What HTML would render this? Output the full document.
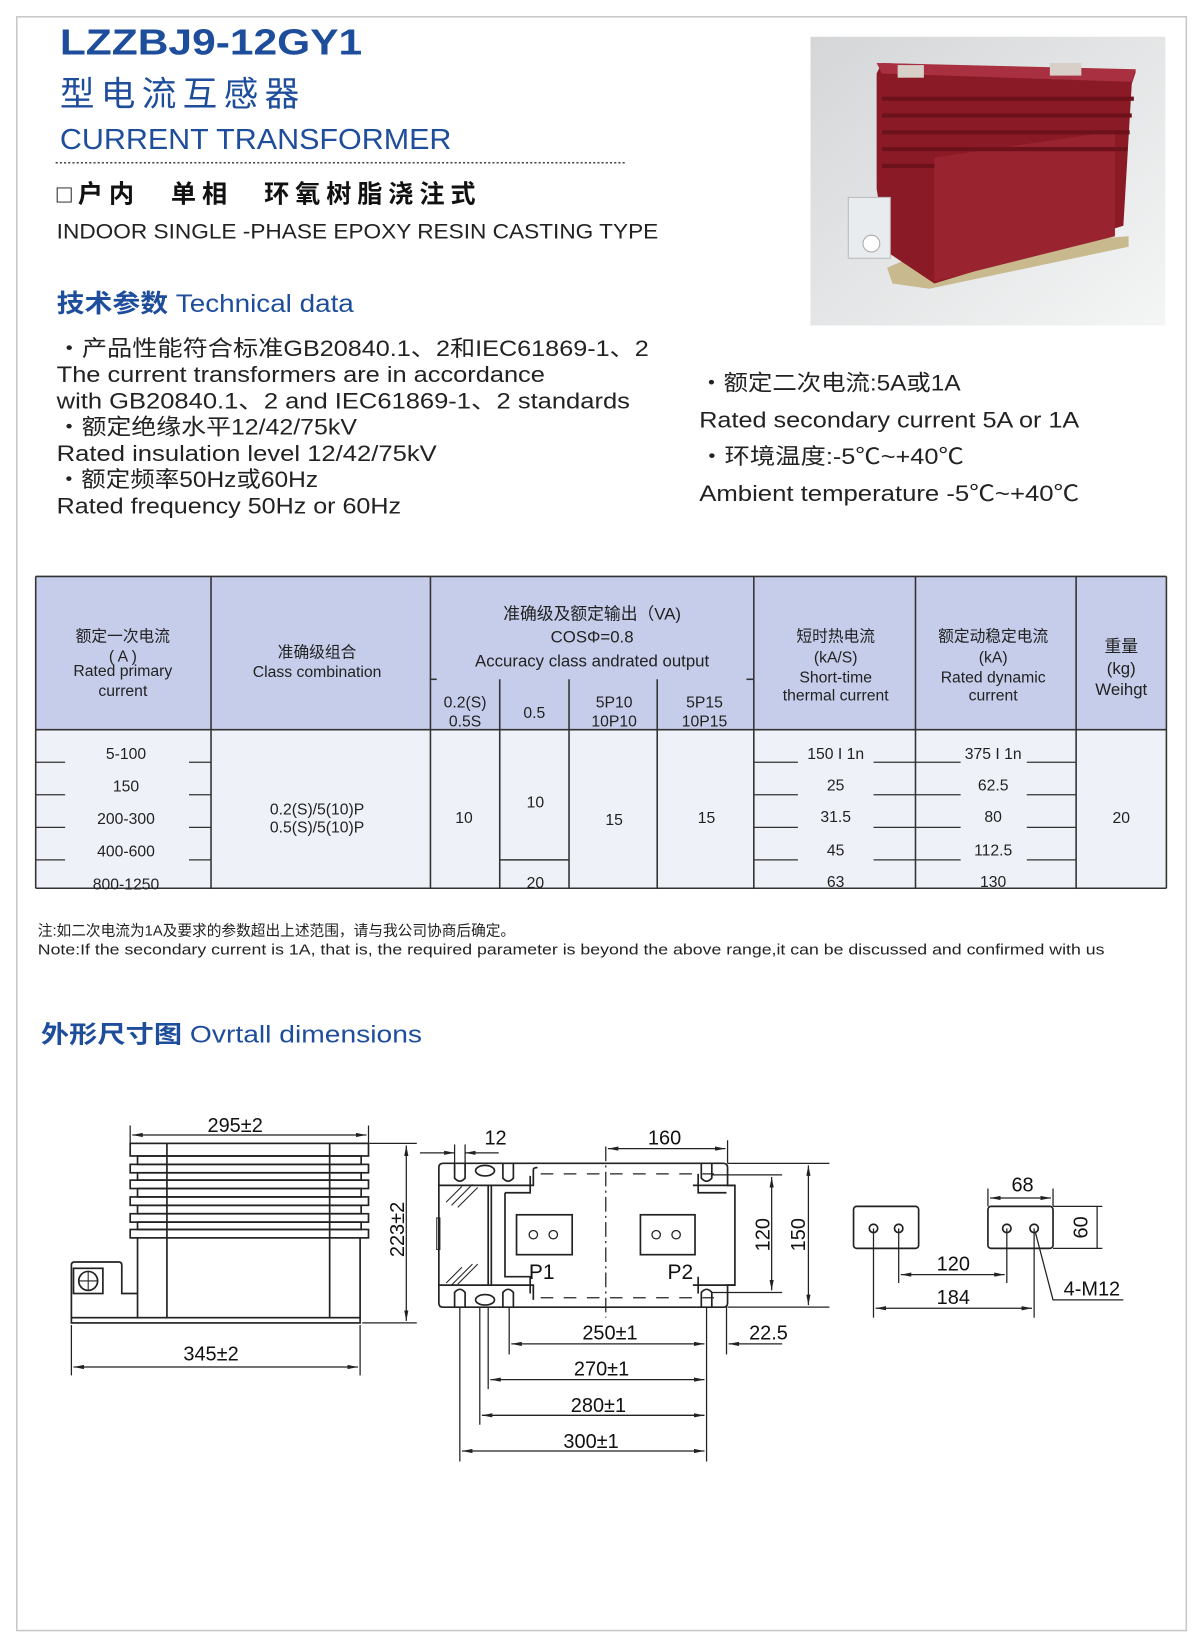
<!DOCTYPE html>
<html><head><meta charset="utf-8"><style>
html,body{margin:0;padding:0;background:#fff;}
svg{display:block;}
text{font-family:"Liberation Sans","Noto Sans CJK SC",sans-serif;}
</style></head><body>
<svg width="1200" height="1640" viewBox="0 0 1143 1562" preserveAspectRatio="none" xmlns="http://www.w3.org/2000/svg">
<defs>
<linearGradient id="bg" x1="0" y1="0" x2="1" y2="1"><stop offset="0" stop-color="#d4d6d8"/><stop offset="1" stop-color="#f4f5f5"/></linearGradient>
<marker id="ar" viewBox="0 0 10 4" refX="10" refY="2" markerWidth="10" markerHeight="4" orient="auto-start-reverse" markerUnits="userSpaceOnUse"><path d="M0,0 L10,2 L0,4 z" fill="#222"/></marker>
</defs>
<rect x="16" y="16" width="1114" height="1537" fill="none" stroke="#c8c8c8" stroke-width="1.5"/>

<!-- header -->
<text x="57" y="52" font-size="34" font-weight="bold" fill="#1e4d9c" textLength="288" lengthAdjust="spacingAndGlyphs">LZZBJ9-12GY1</text>
<text x="57" y="101" font-size="33" fill="#1e4d9c" textLength="228">型电流互感器</text>
<text x="57" y="142" font-size="27" fill="#1e4d9c" textLength="373" lengthAdjust="spacingAndGlyphs">CURRENT  TRANSFORMER</text>
<line x1="53" y1="155" x2="595" y2="155" stroke="#444" stroke-width="1.5" stroke-dasharray="2,2"/>
<text x="54" y="193" font-size="24" font-weight="bold" fill="#111" textLength="399">□户内　单相　环氧树脂浇注式</text>
<text x="54" y="227" font-size="20" fill="#222" textLength="573" lengthAdjust="spacingAndGlyphs">INDOOR SINGLE -PHASE EPOXY RESIN CASTING TYPE</text>
<text x="54" y="297" font-size="24" fill="#1e4d9c" textLength="283" lengthAdjust="spacingAndGlyphs"><tspan font-weight="bold">技术参数</tspan> Technical data</text>

<g font-size="21" fill="#222">
<text x="54" y="339" textLength="564" lengthAdjust="spacingAndGlyphs">・产品性能符合标准GB20840.1、2和IEC61869-1、2</text>
<text x="54" y="364" textLength="465" lengthAdjust="spacingAndGlyphs">The current transformers are in accordance</text>
<text x="54" y="389" textLength="546" lengthAdjust="spacingAndGlyphs">with GB20840.1、2 and IEC61869-1、2 standards</text>
<text x="54" y="414" textLength="286" lengthAdjust="spacingAndGlyphs">・额定绝缘水平12/42/75kV</text>
<text x="54" y="439" textLength="362" lengthAdjust="spacingAndGlyphs">Rated insulation level 12/42/75kV</text>
<text x="54" y="464" textLength="249" lengthAdjust="spacingAndGlyphs">・额定频率50Hz或60Hz</text>
<text x="54" y="489" textLength="328" lengthAdjust="spacingAndGlyphs">Rated frequency 50Hz or 60Hz</text>
<text x="666" y="372" textLength="249" lengthAdjust="spacingAndGlyphs">・额定二次电流:5A或1A</text>
<text x="666" y="407" textLength="362" lengthAdjust="spacingAndGlyphs">Rated secondary current 5A or 1A</text>
<text x="666" y="442" textLength="252" lengthAdjust="spacingAndGlyphs">・环境温度:-5℃~+40℃</text>
<text x="666" y="477" textLength="362" lengthAdjust="spacingAndGlyphs">Ambient temperature -5℃~+40℃</text>
</g>

<!-- photo -->
<rect x="772" y="35" width="338" height="275" fill="url(#bg)"/>
<polygon points="845,255 880,240 1075,225 1075,235 885,275 850,270" fill="#c9b98f"/>
<polygon points="835,70 840,60 1082,68 1078,80 1070,215 890,270 845,240 835,180" fill="#8a1b26"/>
<polygon points="890,150 1062,125 1062,225 890,268" fill="#9a2330"/>
<g fill="#6d121b">
<rect x="840" y="92" width="240" height="4"/><rect x="840" y="108" width="238" height="4"/>
<rect x="840" y="124" width="236" height="4"/><rect x="840" y="140" width="234" height="4"/>
<rect x="840" y="156" width="50" height="4"/>
</g>
<polygon points="835,60 1082,66 1078,78 840,70" fill="#a83040"/>
<rect x="855" y="62" width="25" height="12" fill="#d8d0c8"/>
<rect x="1000" y="60" width="30" height="12" fill="#d8d0c8"/>
<rect x="808" y="188" width="40" height="58" fill="#e8ecee" stroke="#bbb"/>
<circle cx="830" cy="232" r="8" fill="#fff" stroke="#aaa"/>

<!-- table -->
<rect x="34" y="549" width="1077" height="146" fill="#c6cdea"/>
<rect x="34" y="695" width="1077" height="151" fill="#eef1f8"/>
<g stroke="#333" stroke-width="1.5" fill="none">
<line x1="34" y1="549" x2="1111" y2="549"/>
<line x1="34" y1="695" x2="1111" y2="695"/>
<line x1="34" y1="846" x2="1111" y2="846"/>
<line x1="34" y1="549" x2="34" y2="846"/>
<line x1="201" y1="549" x2="201" y2="846"/>
<line x1="410" y1="549" x2="410" y2="846"/>
<line x1="718" y1="549" x2="718" y2="846"/>
<line x1="872" y1="549" x2="872" y2="846"/>
<line x1="1025" y1="549" x2="1025" y2="846"/>
<line x1="1111" y1="549" x2="1111" y2="846"/>
<line x1="476" y1="647" x2="476" y2="846"/>
<line x1="542" y1="647" x2="542" y2="846"/>
<line x1="626" y1="647" x2="626" y2="846"/>
<line x1="410" y1="647" x2="416" y2="647"/><line x1="711" y1="647" x2="718" y2="647"/>
<line x1="476" y1="819" x2="542" y2="819"/>
</g>
<g stroke="#333" stroke-width="1.2">
<line x1="34" y1="726" x2="62" y2="726"/><line x1="180" y1="726" x2="201" y2="726"/>
<line x1="34" y1="757" x2="62" y2="757"/><line x1="180" y1="757" x2="201" y2="757"/>
<line x1="34" y1="788" x2="62" y2="788"/><line x1="180" y1="788" x2="201" y2="788"/>
<line x1="34" y1="819" x2="62" y2="819"/><line x1="180" y1="819" x2="201" y2="819"/>
<line x1="718" y1="726" x2="760" y2="726"/><line x1="832" y1="726" x2="872" y2="726"/>
<line x1="718" y1="757" x2="760" y2="757"/><line x1="832" y1="757" x2="872" y2="757"/>
<line x1="718" y1="788" x2="760" y2="788"/><line x1="832" y1="788" x2="872" y2="788"/>
<line x1="718" y1="819" x2="760" y2="819"/><line x1="832" y1="819" x2="872" y2="819"/>
<line x1="872" y1="726" x2="915" y2="726"/><line x1="978" y1="726" x2="1025" y2="726"/>
<line x1="872" y1="757" x2="915" y2="757"/><line x1="978" y1="757" x2="1025" y2="757"/>
<line x1="872" y1="788" x2="915" y2="788"/><line x1="978" y1="788" x2="1025" y2="788"/>
<line x1="872" y1="819" x2="915" y2="819"/><line x1="978" y1="819" x2="1025" y2="819"/>
</g>
<g font-size="15" fill="#222" text-anchor="middle">
<text x="117" y="611">额定一次电流</text><text x="117" y="630">( A )</text>
<text x="117" y="644">Rated primary</text><text x="117" y="663">current</text>
<text x="302" y="626">准确级组合</text><text x="302" y="645">Class combination</text>
<text x="564" y="590" font-size="16">准确级及额定输出（VA)</text>
<text x="564" y="612" font-size="16">COSΦ=0.8</text>
<text x="564" y="635" font-size="16">Accuracy class andrated output</text>
<text x="443" y="674">0.2(S)</text><text x="443" y="692">0.5S</text>
<text x="509" y="684">0.5</text>
<text x="585" y="674">5P10</text><text x="585" y="692">10P10</text>
<text x="671" y="674">5P15</text><text x="671" y="692">10P15</text>
<text x="796" y="611">短时热电流</text><text x="796" y="631">(kA/S)</text>
<text x="796" y="650">Short-time</text><text x="796" y="667">thermal current</text>
<text x="946" y="611">额定动稳定电流</text><text x="946" y="631">(kA)</text>
<text x="946" y="650">Rated dynamic</text><text x="946" y="667">current</text>
<text x="1068" y="621" font-size="16">重量</text><text x="1068" y="642" font-size="16">(kg)</text><text x="1068" y="662" font-size="16">Weihgt</text>
<text x="120" y="723">5-100</text><text x="120" y="754">150</text><text x="120" y="785">200-300</text>
<text x="120" y="816">400-600</text><text x="120" y="847">800-1250</text>
<text x="302" y="776">0.2(S)/5(10)P</text><text x="302" y="793">0.5(S)/5(10)P</text>
<text x="442" y="784">10</text><text x="510" y="769">10</text><text x="510" y="846">20</text>
<text x="585" y="786">15</text><text x="673" y="784">15</text>
<text x="796" y="723">150 I 1n</text><text x="796" y="753">25</text><text x="796" y="783">31.5</text>
<text x="796" y="815">45</text><text x="796" y="845">63</text>
<text x="946" y="723">375 I 1n</text><text x="946" y="753">62.5</text><text x="946" y="783">80</text>
<text x="946" y="815">112.5</text><text x="946" y="845">130</text>
<text x="1068" y="784">20</text>
</g>
<text x="36" y="891" font-size="14" fill="#222">注:如二次电流为1A及要求的参数超出上述范围，请与我公司协商后确定。</text>
<text x="36" y="909" font-size="14" fill="#222" textLength="1016" lengthAdjust="spacingAndGlyphs">Note:If the secondary current is 1A, that is, the required parameter is beyond the above range,it can be discussed and confirmed with us</text>

<text x="39" y="993" font-size="23" fill="#1e4d9c" textLength="363" lengthAdjust="spacingAndGlyphs"><tspan font-weight="bold">外形尺寸图</tspan> Ovrtall dimensions</text>

<!-- drawings -->
<g stroke="#222" stroke-width="1.6" fill="none">
<rect x="124" y="1089" width="227" height="12"/>
<rect x="131" y="1101" width="213" height="8"/>
<rect x="124" y="1109" width="227" height="8"/>
<rect x="131" y="1117" width="213" height="7"/>
<rect x="124" y="1124" width="227" height="8"/>
<rect x="131" y="1132" width="213" height="8"/>
<rect x="124" y="1140" width="227" height="8"/>
<rect x="131" y="1148" width="213" height="8"/>
<rect x="124" y="1156" width="227" height="8"/>
<rect x="131" y="1164" width="213" height="7"/>
<rect x="124" y="1171" width="227" height="8"/>
<line x1="159" y1="1089" x2="159" y2="1255"/><line x1="314" y1="1089" x2="314" y2="1255"/>
<line x1="131" y1="1179" x2="131" y2="1255"/><line x1="343" y1="1179" x2="343" y2="1255"/>
<rect x="68" y="1255" width="275" height="5"/>
<path d="M68,1232 V1205 Q68,1202 71,1202 H113 Q116,1202 116,1205 V1232 H131 M68,1232 V1255"/>
<rect x="70" y="1208" width="28" height="24"/>
<circle cx="84" cy="1220" r="9"/><line x1="75" y1="1220" x2="93" y2="1220" stroke-width="1"/><line x1="84" y1="1211" x2="84" y2="1229" stroke-width="1"/>
</g>
<g stroke="#222" stroke-width="1.2" fill="none">
<line x1="124" y1="1072" x2="124" y2="1089"/><line x1="351" y1="1072" x2="351" y2="1089"/>
<line x1="126" y1="1081" x2="349" y2="1081" marker-start="url(#ar)" marker-end="url(#ar)"/>
<line x1="68" y1="1262" x2="68" y2="1310"/><line x1="343" y1="1262" x2="343" y2="1310"/>
<line x1="70" y1="1302" x2="341" y2="1302" marker-start="url(#ar)" marker-end="url(#ar)"/>
<line x1="352" y1="1089" x2="397" y2="1089"/><line x1="345" y1="1260" x2="397" y2="1260"/>
<line x1="387" y1="1091" x2="387" y2="1258" marker-start="url(#ar)" marker-end="url(#ar)"/>
</g>
<g font-size="19" fill="#111" text-anchor="middle">
<text x="224" y="1078">295±2</text>
<text x="201" y="1296">345±2</text>
<text transform="translate(385,1171) rotate(-90)">223±2</text>
</g>

<g stroke="#222" stroke-width="1.6" fill="none">
<path d="M422,1108 H689 Q693,1108 693,1112 V1129 H700 V1224 H693 V1241 Q693,1245 689,1245 H422 Q418,1245 418,1241 V1112 Q418,1108 422,1108 Z"/>
<path d="M418,1129 H508 V1114 Q508,1112 512,1112 M418,1224 H508 V1238"/>
<path d="M660,1129 H700 M660,1224 H700"/>
<path d="M468,1129 V1224 M465,1129 V1224"/>
<path d="M481,1136 H505 V1120 M481,1136 V1216 H505 V1232"/>
<path d="M692,1136 H665 V1118 M665,1216 V1232"/>
<rect x="492" y="1157" width="53" height="38"/>
<rect x="610" y="1157" width="52" height="38"/>
<ellipse cx="462" cy="1115" rx="9" ry="5"/><ellipse cx="462" cy="1238" rx="9" ry="5"/>
<path d="M433,1108 V1122 Q438,1128 443,1122 V1108"/>
<path d="M479,1108 V1122 Q484,1128 489,1122 V1108"/>
<path d="M668,1108 V1122 Q673,1128 678,1122 V1108"/>
<path d="M433,1245 V1231 Q438,1225 443,1231 V1245"/>
<path d="M479,1245 V1231 Q484,1225 489,1231 V1245"/>
<path d="M668,1245 V1231 Q673,1225 678,1231 V1245"/>
<rect x="416" y="1160" width="3" height="30" stroke-width="1"/>
</g>
<g stroke="#222" stroke-width="1.2" fill="none">
<path d="M515,1118 H680 M515,1236 H680" stroke-dasharray="12,10"/>
<line x1="577" y1="1092" x2="577" y2="1255" stroke-dasharray="14,4,2,4"/>
<path d="M425,1145 L440,1130 M430,1148 L450,1128 M436,1150 L455,1131 M425,1222 L440,1207 M430,1224 L450,1204 M436,1223 L455,1204" stroke-width="1"/>
<circle cx="508" cy="1176" r="4"/><circle cx="527" cy="1176" r="4"/>
<circle cx="625" cy="1176" r="4"/><circle cx="644" cy="1176" r="4"/>
<line x1="693" y1="1086" x2="693" y2="1108"/>
<line x1="579" y1="1094" x2="691" y2="1094" marker-start="url(#ar)" marker-end="url(#ar)"/>
<line x1="433" y1="1090" x2="433" y2="1115"/><line x1="443" y1="1090" x2="443" y2="1115"/>
<line x1="400" y1="1098" x2="433" y2="1098" marker-end="url(#ar)"/>
<line x1="475" y1="1098" x2="443" y2="1098" marker-end="url(#ar)"/>
<line x1="678" y1="1119" x2="745" y2="1119"/><line x1="678" y1="1231" x2="745" y2="1231"/>
<line x1="735" y1="1121" x2="735" y2="1229" marker-start="url(#ar)" marker-end="url(#ar)"/>
<line x1="693" y1="1108" x2="790" y2="1108"/><line x1="693" y1="1245" x2="790" y2="1245"/>
<line x1="770" y1="1110" x2="770" y2="1243" marker-start="url(#ar)" marker-end="url(#ar)"/>
<line x1="438" y1="1245" x2="438" y2="1392"/>
<line x1="457" y1="1245" x2="457" y2="1357"/>
<line x1="465" y1="1245" x2="465" y2="1323"/>
<line x1="485" y1="1245" x2="485" y2="1290"/>
<line x1="673" y1="1245" x2="673" y2="1392"/>
<line x1="692" y1="1245" x2="692" y2="1290"/>
<line x1="487" y1="1280" x2="671" y2="1280" marker-start="url(#ar)" marker-end="url(#ar)"/>
<line x1="712" y1="1280" x2="694" y2="1280" marker-end="url(#ar)"/><line x1="712" y1="1280" x2="745" y2="1280"/>
<line x1="467" y1="1314" x2="671" y2="1314" marker-start="url(#ar)" marker-end="url(#ar)"/>
<line x1="459" y1="1348" x2="671" y2="1348" marker-start="url(#ar)" marker-end="url(#ar)"/>
<line x1="440" y1="1382" x2="671" y2="1382" marker-start="url(#ar)" marker-end="url(#ar)"/>
</g>
<g font-size="19" fill="#111" text-anchor="middle">
<text x="472" y="1090">12</text>
<text x="633" y="1090">160</text>
<text transform="translate(733,1176) rotate(-90)">120</text>
<text transform="translate(767,1176) rotate(-90)">150</text>
<text x="516" y="1218" font-size="20">P1</text>
<text x="648" y="1218" font-size="20">P2</text>
<text x="581" y="1276">250±1</text>
<text x="732" y="1276">22.5</text>
<text x="573" y="1310">270±1</text>
<text x="570" y="1345">280±1</text>
<text x="563" y="1379">300±1</text>
</g>

<g stroke="#222" stroke-width="1.6" fill="none">
<rect x="813" y="1149" width="62" height="40" rx="3"/>
<rect x="941" y="1149" width="62" height="40" rx="3"/>
<circle cx="832" cy="1170" r="4"/><circle cx="856" cy="1170" r="4"/>
<circle cx="959" cy="1170" r="4"/><circle cx="985" cy="1170" r="4"/>
</g>
<g stroke="#222" stroke-width="1.2" fill="none">
<line x1="941" y1="1132" x2="941" y2="1149"/><line x1="1003" y1="1132" x2="1003" y2="1149"/>
<line x1="943" y1="1141" x2="1001" y2="1141" marker-start="url(#ar)" marker-end="url(#ar)"/>
<line x1="1003" y1="1149" x2="1050" y2="1149"/><line x1="1003" y1="1189" x2="1050" y2="1189"/>
<line x1="1045" y1="1149" x2="1045" y2="1189"/>
<line x1="856" y1="1170" x2="856" y2="1222"/><line x1="959" y1="1170" x2="959" y2="1222"/>
<line x1="832" y1="1170" x2="832" y2="1255"/><line x1="985" y1="1170" x2="985" y2="1255"/>
<line x1="858" y1="1214" x2="957" y2="1214" marker-start="url(#ar)" marker-end="url(#ar)"/>
<line x1="834" y1="1246" x2="983" y2="1246" marker-start="url(#ar)" marker-end="url(#ar)"/>
<path d="M986,1173 L1003,1238 H1070"/>
</g>
<g font-size="19" fill="#111" text-anchor="middle">
<text x="974" y="1135">68</text>
<text transform="translate(1036,1169) rotate(-90)">60</text>
<text x="908" y="1210">120</text>
<text x="908" y="1242">184</text>
<text x="1040" y="1234">4-M12</text>
</g>
</svg>
</body></html>
